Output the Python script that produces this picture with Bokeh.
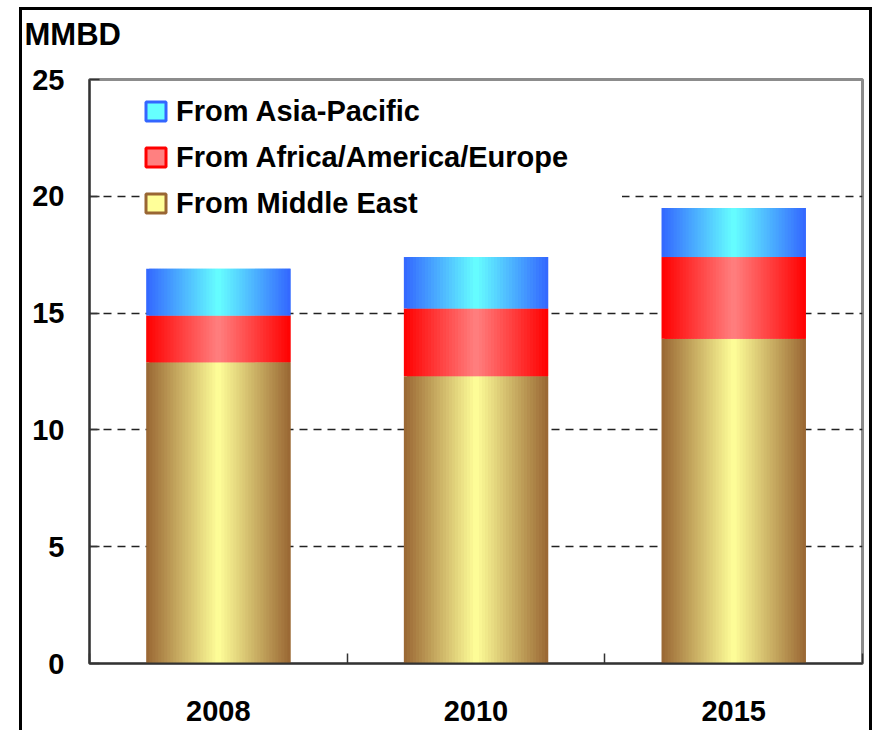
from bokeh.plotting import figure
from bokeh.models import FixedTicker, ColumnDataSource, Legend, LegendItem
from bokeh.embed import file_html
from bokeh.resources import INLINE

# ---------------- data ----------------
years = ["2008", "2010", "2015"]
middle_east = [12.9, 12.3, 13.9]
africa_america_europe = [2.0, 2.9, 3.5]
asia_pacific = [2.0, 2.2, 2.1]
y_ticks = [0, 5, 10, 15, 20, 25]
grid_ticks = [5, 10, 15, 20]
series_names = ["From Middle East", "From Africa/America/Europe", "From Asia-Pacific"]

# ---------------- style ----------------
FONT = "Liberation Sans"
FS = "29px"
edge_colors = [(0x99, 0x66, 0x33), (0xFF, 0x00, 0x00), (0x33, 0x66, 0xFF)]
center_colors = [(0xFF, 0xFF, 0x99), (0xFF, 0x80, 0x80), (0x66, 0xFF, 0xFF)]
BAR_W = 0.56
N = 48


def hexc(c):
    return "#%02x%02x%02x" % tuple(int(round(v)) for v in c)


def blend(a, b, t):
    return tuple(a[j] + (b[j] - a[j]) * t for j in range(3))


series_vals = [middle_east, africa_america_europe, asia_pacific]

p = figure(width=853, height=723, x_range=(0, len(years)), y_range=(y_ticks[0], y_ticks[-1]),
           output_backend="svg", toolbar_location=None,
           min_border_left=67, min_border_right=13, min_border_top=69, min_border_bottom=70)
p.styles = {"border-left": "3px solid black", "border-top": "3px solid black",
            "border-right": "3px solid black", "transform": "translate(19px, 7px)"}
p.background_fill_color = "white"
p.border_fill_color = "white"
p.outline_line_color = "#8c8c8c"
p.outline_line_width = 3

p.title.text = "MMBD\n"
p.title.align = "left"
p.title.vertical_align = "bottom"
p.title.offset = -65
p.title.standoff = 0
p.title.text_line_height = 0.8
p.title.text_font = FONT
p.title.text_font_size = "31px"
p.title.text_font_style = "bold"
p.title.text_color = "black"

# gradient bars built from thin vertical slices (each slice overlaps the next)
sw = BAR_W / N
bottoms = [0.0] * len(years)
for s, vals in enumerate(series_vals):
    ls, rs, bs, ts, cs = [], [], [], [], []
    for i, v in enumerate(vals):
        x0 = i + 0.5 - BAR_W / 2
        for k in range(N):
            f = (k + 0.5) / N
            t = 1 - abs(2 * f - 1)
            ls.append(x0 + k * sw)
            rs.append(min(x0 + (k + 2) * sw, x0 + BAR_W))
            bs.append(bottoms[i])
            ts.append(bottoms[i] + v)
            cs.append(hexc(blend(edge_colors[s], center_colors[s], t)))
    src = ColumnDataSource(dict(left=ls, right=rs, bottom=bs, top=ts, color=cs))
    p.quad(left="left", right="right", bottom="bottom", top="top", source=src,
           fill_color="color", line_color=None)
    bottoms = [bottoms[i] + vals[i] for i in range(len(years))]

# axes
p.yaxis.ticker = FixedTicker(ticks=y_ticks, minor_ticks=[])
p.yaxis.major_tick_in = 10
p.yaxis.major_tick_out = 0
p.yaxis.minor_tick_line_color = None
p.yaxis.axis_line_color = "#333333"
p.yaxis.axis_line_width = 2
p.yaxis.major_tick_line_color = "#333333"
p.yaxis.major_tick_line_width = 1.5
p.yaxis.major_label_standoff = 25
p.yaxis.major_label_text_font = FONT
p.yaxis.major_label_text_font_size = FS
p.yaxis.major_label_text_font_style = "bold"
p.yaxis.major_label_text_color = "black"

centers = [i + 0.5 for i in range(len(years))]
bounds = [float(i) for i in range(len(years) + 1)]
p.xaxis.ticker = FixedTicker(ticks=centers, minor_ticks=bounds)
p.xaxis.major_label_overrides = dict(zip(centers, years))
p.xaxis.major_tick_in = 0
p.xaxis.major_tick_out = 0
p.xaxis.minor_tick_in = 10
p.xaxis.minor_tick_out = 0
p.xaxis.minor_tick_line_color = "#333333"
p.xaxis.minor_tick_line_width = 1.5
p.xaxis.axis_line_color = "#333333"
p.xaxis.axis_line_width = 2
p.xaxis.major_label_standoff = 37
p.xaxis.major_label_text_font = FONT
p.xaxis.major_label_text_font_size = FS
p.xaxis.major_label_text_font_style = "bold"
p.xaxis.major_label_text_color = "black"

p.xgrid.visible = False
p.ygrid.ticker = FixedTicker(ticks=grid_ticks)
p.ygrid.grid_line_color = "#222222"
p.ygrid.grid_line_width = 1.3
p.ygrid.grid_line_dash = "8 6"

# legend: icon-only renderers placed outside the visible range
items = []
for s in [2, 1, 0]:
    r = p.quad(left=[-5], right=[-5], bottom=[-5], top=[-5],
               fill_color=hexc(center_colors[s]), line_color=hexc(edge_colors[s]), line_width=3)
    items.append(LegendItem(label=series_names[s], renderers=[r]))
legend = Legend(items=items, location=(54, 443), padding=12, spacing=12, margin=0,
                glyph_width=25, glyph_height=24, label_standoff=8,
                label_width=446, label_height=34,
                label_text_font=FONT, label_text_font_size=FS,
                label_text_font_style="bold", label_text_color="black",
                background_fill_color="white", background_fill_alpha=1.0,
                border_line_color=None)
p.add_layout(legend)

open("out.html", "w").write(file_html(p, INLINE))
